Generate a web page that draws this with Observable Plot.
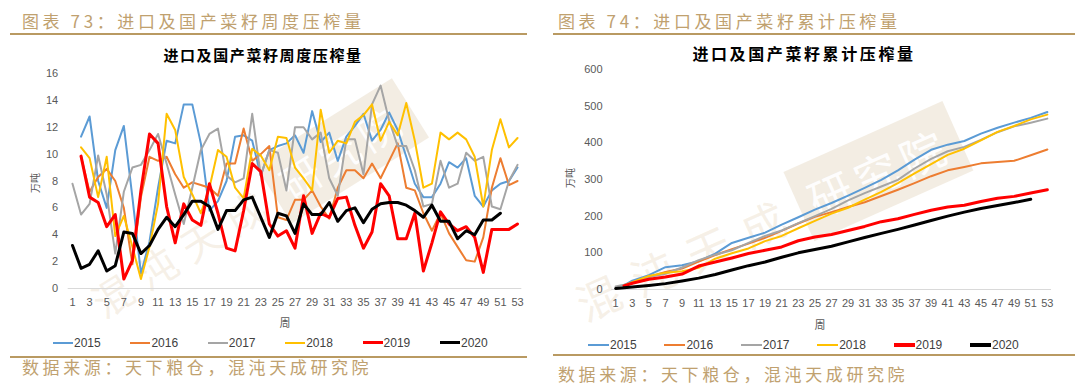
<!DOCTYPE html>
<html><head><meta charset="utf-8">
<script src="https://cdn.jsdelivr.net/npm/d3@7"></script>
<script src="https://cdn.jsdelivr.net/npm/@observablehq/plot@0.6"></script>
<style>
body{margin:0;background:#fff;}
#page{position:relative;width:1080px;height:391px;overflow:hidden;background:#fff;font-family:"Liberation Sans",Arial,sans-serif;}
.abs{position:absolute;white-space:nowrap;}
.hdr{font-family:"Noto Sans CJK SC";font-size:17px;color:#c0a16f;letter-spacing:3.6px;line-height:20px;}
.rule{position:absolute;height:2px;background:#b99a62;}
.ctitle{font-family:"Noto Sans CJK SC";font-weight:bold;color:#000;line-height:20px;transform:translateX(-50%);}
.ylab{font-family:"Noto Sans CJK SC";font-size:10px;color:#595959;line-height:12px;transform:translate(-50%,-50%) rotate(-90deg);}
.xlab{font-family:"Noto Sans CJK SC";font-size:11px;color:#595959;line-height:14px;transform:translate(-50%,-50%);}
.leg{font-size:12px;color:#404040;line-height:14px;}
</style></head>
<body><div id="page"></div>
<script>
// ---------- data ----------
const years = ["2015","2016","2017","2018","2019","2020"];
const colors = ["#5b9bd5","#ed7d31","#a5a5a5","#ffc000","#ff0000","#000000"];
const weeks = [1,2,3,4,5,6,7,8,9,10,11,12,13,14,15,16,17,18,19,20,21,22,23,24,25,26,27,28,29,30,31,32,33,34,35,36,37,38,39,40,41,42,43,44,45,46,47,48,49,50,51,52,53];
const xTicks = [1,3,5,7,9,11,13,15,17,19,21,23,25,27,29,31,33,35,37,39,41,43,45,47,49,51,53];
const yTicksWeekly = [0,2,4,6,8,10,12,14,16];
const yTicksCum = [0,100,200,300,400,500,600];

// weekly crush (万吨)
const weekly2015 = [null,11.3,12.8,8.0,6.0,10.3,12.1,6.8,1.1,3.5, 7.5,11.0,10.8,13.7,13.7,10.8,5.8,6.5,8.0,11.3, 11.4,11.0,8.4,10.3,10.6,10.8,11.4,10.1,13.2,10.9, 11.6,9.5,11.3,12.1,13.0,11.0,11.8,13.1,11.8,9.8, 7.8,6.8,6.8,7.8,9.4,9.0,9.7,6.9,6.1,7.3, 7.8,8.0,9.0];
const weekly2016 = [null,9.8,7.2,8.3,8.9,8.0,6.0,1.8,6.8,9.8, 9.5,9.8,8.5,7.5,7.9,7.7,7.5,6.9,9.3,9.3, 11.9,9.5,10.0,10.6,5.3,5.1,6.6,6.6,7.3,6.1, 5.2,7.5,8.8,8.8,8.2,9.3,8.2,9.5,10.8,7.5, 7.3,5.6,4.3,5.6,4.1,3.1,2.1,2.0,3.8,7.5, 9.7,7.7,8.0];
const weekly2017 = [7.8,5.5,6.3,9.9,7.0,2.6,7.2,9.0,9.2,10.3, 11.5,9.3,7.0,4.8,7.5,10.3,11.5,11.9,8.4,7.9, 8.2,13.0,8.4,10.3,10.1,7.3,12.0,12.0,11.1,11.6, 8.2,6.9,11.1,11.1,8.5,13.7,15.1,12.5,10.6,10.6, 8.8,6.1,6.3,9.5,7.5,7.8,10.1,9.5,9.8,6.1, 5.9,8.0,9.2];
const weekly2018 = [null,10.5,9.7,6.8,9.8,3.9,5.4,3.1,0.7,3.1, 6.3,13.0,11.8,8.3,7.0,5.6,7.5,10.3,9.8,7.5, 6.7,10.4,9.9,8.8,11.3,11.2,9.0,8.2,7.3,13.3, 10.1,11.0,10.8,12.4,12.9,13.7,11.0,12.4,11.4,13.8, 11.0,7.5,7.8,11.6,11.1,11.6,11.1,9.8,6.1,10.3, 12.6,10.5,11.2];
const weekly2019 = [null,9.85,6.8,6.4,4.6,5.5,0.7,2.1,7.3,11.5, 10.8,6.1,3.4,6.3,5.1,4.7,7.8,5.6,3.0,2.8, 5.8,9.3,8.7,4.8,3.9,4.3,3.0,6.9,4.1,5.6, 5.3,6.7,6.8,4.7,3.0,4.2,7.8,6.9,3.7,3.7, 5.6,1.3,3.4,5.7,4.8,4.3,4.6,3.8,1.2,4.4, 4.4,4.4,4.8];
const weekly2020 = [3.2,1.5,1.8,2.8,1.3,1.7,4.2,4.1,2.6,3.2, 4.4,5.3,4.6,5.5,6.5,6.5,6.1,4.4,5.8,5.8, 6.6,6.8,5.3,3.8,5.6,5.4,4.1,6.3,5.5,5.5, 6.4,5.0,5.8,6.0,4.9,5.9,6.3,6.4,6.4,6.2, 5.8,5.3,6.2,5.0,5.0,3.7,4.3,4.0,5.1,5.1, 5.6,null,null];

// cumulative crush (万吨), read at these weeks
const cumWeeks = [1,2,3,5,7,9,11,13,15,17,19,21,23,25,27,29,31,33,35,37,39,41,43,45,47,49,51,53];
const cum2015 = [null,11,24,39,61,66,77,98,127,141,155,177,197,218,236,256,277,299,325,354,381,395,405,425,441,455,468,484];
const cum2016 = [null,10,17,34,48,57,76,94,110,125,141,160,180,198,211,225,238,255,272,290,309,325,334,344,348,351,366,382];
const cum2017 = [8,13,19,34,43,60,80,95,107,127,146,161,181,200,220,243,263,281,299,330,356,377,389,408,429,445,455,466];
const cum2018 = [null,10,20,37,46,50,59,84,99,112,132,146,167,187,207,223,245,266,290,317,342,367,384,407,430,446,464,477];
const cum2019 = [null,10,17,28,34,42,64,75,86,98,107,116,133,143,150,161,172,185,193,205,216,225,230,240,249,254,263,272];
const cum2020 = [3,5,7,11,16,23,31,41,53,65,75,88,100,109,118,130,142,153,164,176,188,200,211,221,229,237,246,null];

const weeklySeries = [weekly2015,weekly2016,weekly2017,weekly2018,weekly2019,weekly2020];
const cumSeries = [cum2015,cum2016,cum2017,cum2018,cum2019,cum2020];

// ---------- helpers ----------
const page = document.getElementById("page");
function add(html, cls, css) {
  const d = document.createElement("div");
  d.className = "abs " + (cls||"");
  d.innerHTML = html;
  Object.assign(d.style, css||{});
  page.appendChild(d);
  return d;
}
function rows(xs, vs) {
  return xs.map((w,i)=>({week:w, value:vs[i]})).filter(d=>d.value!=null);
}
function watermark(x0, y0, angle, fs, ls) {
  add(`<span style="color:rgba(214,188,148,0.22);letter-spacing:${ls}px">混沌天成</span><span style="background:rgba(226,211,188,0.42);color:rgba(255,255,255,0.95);padding:6px 12px;margin-left:2px;letter-spacing:6px">研究院</span>`,
    "", {left:x0+"px", top:(y0-fs*0.6)+"px", lineHeight:(fs*1.2)+"px", fontSize:fs+"px",
         fontFamily:"Noto Sans CJK SC", transformOrigin:`0 ${fs*0.6}px`, transform:`rotate(${-angle}deg)`});
}
const axisStyle = {fontFamily:"Liberation Sans, Arial, sans-serif", fontSize:"11px", color:"#595959", background:"transparent", overflow:"visible"};

// ---------- watermarks (behind) ----------
watermark(95, 305, 32, 40, 12);
watermark(578, 305, 24, 44, 16);

// ---------- headers ----------
add("图表 73：进口及国产菜籽周度压榨量", "hdr", {left:"22px", top:"11px"});
add("图表 74：进口及国产菜籽累计压榨量", "hdr", {left:"558px", top:"11px"});
add("", "rule", {left:"10px", top:"33px", width:"517px"});
add("", "rule", {left:"553px", top:"33px", width:"522px"});
add("", "rule", {left:"10px", top:"356px", width:"517px"});
add("", "rule", {left:"553px", top:"354px", width:"522px"});
add("数据来源：天下粮仓，混沌天成研究院", "hdr", {left:"22px", top:"357px"});
add("数据来源：天下粮仓，混沌天成研究院", "hdr", {left:"558px", top:"364px"});

add("进口及国产菜籽周度压榨量", "ctitle", {left:"263px", top:"45px", fontSize:"15px", letterSpacing:"1.6px"});
add("进口及国产菜籽累计压榨量", "ctitle", {left:"804px", top:"43px", fontSize:"16px", letterSpacing:"2.6px"});
add("万吨", "ylab", {left:"35px", top:"183px"});
add("万吨", "ylab", {left:"570px", top:"178px"});
add("周", "xlab", {left:"285px", top:"322px"});
add("周", "xlab", {left:"820px", top:"324px"});

// ---------- charts ----------
const leftWidths = [2,2,2,2,3,3];
const rightWidths = [2,2,2,2,3,3];

const left = Plot.plot({
  width: 540, height: 255,
  marginLeft: 67.7, marginRight: 18.7, marginTop: 13, marginBottom: 27,
  style: axisStyle,
  x: {domain:[0.5,53.5], ticks: xTicks, tickSize: 0, tickPadding: 10, label: null},
  y: {domain:[0,16], ticks: yTicksWeekly, tickSize: 0, tickPadding: 10, label: null},
  marks: [
    Plot.ruleY([0], {stroke:"#d9d9d9", strokeWidth:1}),
    ...years.map((y,i)=>Plot.line(rows(weeks, weeklySeries[i]), {x:"week", y:"value", stroke:colors[i], strokeWidth:leftWidths[i], strokeLinejoin:"round"}))
  ]
});
const lw = add("", "", {left:"0px", top:"60px"});
lw.appendChild(left);

const right = Plot.plot({
  width: 540, height: 255,
  marginLeft: 71, marginRight: 29, marginTop: 9, marginBottom: 26,
  style: axisStyle,
  x: {domain:[0.5,53.5], ticks: xTicks, tickSize: 0, tickPadding: 10, label: null},
  y: {domain:[0,600], ticks: yTicksCum, tickSize: 0, tickPadding: 9, label: null},
  marks: [
    Plot.ruleY([0], {stroke:"#d9d9d9", strokeWidth:1}),
    ...years.map((y,i)=>Plot.line(rows(cumWeeks, cumSeries[i]), {x:"week", y:"value", stroke:colors[i], strokeWidth:rightWidths[i], strokeLinejoin:"round"}))
  ]
});
const rw = add("", "", {left:"540px", top:"60px"});
rw.appendChild(right);

// ---------- legends ----------
years.forEach((y,i)=>{
  const lx = 53 + i*77.4;
  add(`<span style="display:inline-block;width:20px;height:${i>=4?3:2}px;background:${colors[i]};vertical-align:middle;margin-right:1px"></span><span style="vertical-align:middle">${y}</span>`,
      "leg", {left:lx+"px", top:"335px"});
  const rx = 588 + i*76.4;
  add(`<span style="display:inline-block;width:21px;height:${i>=4?3.5:2.5}px;background:${colors[i]};vertical-align:middle;margin-right:1px"></span><span style="vertical-align:middle">${y}</span>`,
      "leg", {left:rx+"px", top:"337px"});
});
</script>
</body></html>
